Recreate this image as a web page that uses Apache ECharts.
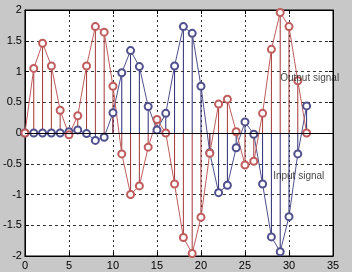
<!DOCTYPE html>
<html><head><meta charset="utf-8">
<script src="https://cdn.jsdelivr.net/npm/echarts@6/dist/echarts.min.js"></script>
<style>html,body{margin:0;padding:0;background:#c8c8c8;}#c{width:352px;height:272px;}</style>
</head><body><div id="c"></div>
<script>
const n = [0,1,2,3,4,5,6,7,8,9,10,11,12,13,14,15,16,17,18,19,20,21,22,23,24,25,26,27,28,29,30,31,32];
const inputSignal = [0,0,0,0,0,0.02,0.05,-0.01,-0.12,-0.07,0.33,0.98,1.34,1.08,0.43,0.05,0.32,1.09,1.73,1.62,0.76,-0.32,-0.97,-0.85,-0.24,0.18,-0.02,-0.83,-1.69,-1.93,-1.36,-0.34,0.44];
const outputSignal = [0,1.05,1.46,1.09,0.37,-0.03,0.28,1.09,1.73,1.64,0.76,-0.34,-1.0,-0.86,-0.23,0.22,0.0,-0.83,-1.70,-1.96,-1.37,-0.33,0.47,0.55,0.02,-0.52,-0.46,0.32,1.36,1.96,1.73,0.85,0.0];
const xTicks = [0,5,10,15,20,25,30,35];
const yTicks = [-2,-1.5,-1,-0.5,0,0.5,1,1.5,2];
const annotations = [
  {name: 'Output signal', x: 29, y: 0.89},
  {name: 'Input signal', x: 28.2, y: -0.71}
];

const red = '#c05c5c', redStem = '#a33636';
const blue = '#50508e', blueStem = '#2a2a74';
const pairs = a => n.map((k, i) => [k, a[i]]);

function stems(color) {
  return function (params, api) {
    const p0 = api.coord([api.value(0), 0]);
    const p1 = api.coord([api.value(0), api.value(1)]);
    return {type: 'line', shape: {x1: p0[0], y1: p0[1], x2: p1[0], y2: p1[1]},
      style: {stroke: color, lineWidth: 1}};
  };
}

const font = {fontFamily: 'Liberation Sans, Arial, sans-serif', fontSize: 11, color: '#000'};
const chart = echarts.init(document.getElementById('c'), null, {renderer: 'canvas'});
chart.setOption({
  animation: false,
  backgroundColor: '#c8c8c8',
  grid: {left: 20, right: 19, top: 10, bottom: 16, show: true, backgroundColor: '#fff', borderColor: '#000', borderWidth: 1},
  xAxis: [{
    type: 'value', min: xTicks[0], max: xTicks[xTicks.length - 1], interval: 5, position: 'bottom',
    axisLine: {show: true, onZero: false, lineStyle: {color: '#000'}},
    axisTick: {show: true, inside: true, length: 4, lineStyle: {color: '#000'}},
    axisLabel: Object.assign({margin: 4}, font),
    splitLine: {show: true, lineStyle: {color: '#333', type: [2, 3], width: 1}}
  }, {
    type: 'value', min: xTicks[0], max: xTicks[xTicks.length - 1], interval: 5, position: 'top',
    axisLine: {show: true, onZero: false, lineStyle: {color: '#000'}},
    axisTick: {show: true, inside: true, length: 4, lineStyle: {color: '#000'}},
    axisLabel: {show: false}, splitLine: {show: false}
  }],
  yAxis: [{
    type: 'value', min: yTicks[0], max: yTicks[yTicks.length - 1], interval: 0.5, position: 'left',
    axisLine: {show: true, onZero: false, lineStyle: {color: '#000'}},
    axisTick: {show: true, inside: true, length: 4, lineStyle: {color: '#000'}},
    axisLabel: Object.assign({margin: 3}, font),
    splitLine: {show: true, lineStyle: {color: '#333', type: [3, 3], width: 1}}
  }, {
    type: 'value', min: yTicks[0], max: yTicks[yTicks.length - 1], interval: 0.5, position: 'right',
    axisLine: {show: true, onZero: false, lineStyle: {color: '#000'}},
    axisTick: {show: true, inside: true, length: 4, lineStyle: {color: '#000'}},
    axisLabel: {show: false}, splitLine: {show: false}
  }],
  series: [
    {type: 'custom', name: 'inStem', renderItem: stems(blueStem), data: pairs(inputSignal), z: 2,
      markLine: {silent: true, symbol: 'none', label: {show: false}, lineStyle: {color: '#000', type: 'solid', width: 1},
        data: [{yAxis: 0}]}},
    {type: 'custom', name: 'outStem', renderItem: stems(redStem), data: pairs(outputSignal), z: 2},
    {type: 'line', name: 'Input signal', data: pairs(inputSignal), symbol: 'emptyCircle', symbolSize: 7,
      lineStyle: {color: blue, width: 1}, itemStyle: {color: blue, borderColor: blue, borderWidth: 1}, z: 3},
    {type: 'line', name: 'Output signal', data: pairs(outputSignal), symbol: 'emptyCircle', symbolSize: 7,
      lineStyle: {color: red, width: 1}, itemStyle: {color: red, borderColor: red, borderWidth: 1}, z: 3},
    {type: 'scatter', name: 'labels', symbolSize: 0, z: 5,
      data: annotations.map(a => ({name: a.name, value: [a.x, a.y]})),
      label: {show: true, position: [0, 0], align: 'left', verticalAlign: 'middle', formatter: '{b}',
        fontFamily: 'Liberation Sans, Arial, sans-serif', fontSize: 10, color: '#111'}}
  ]
});
</script></body></html>
